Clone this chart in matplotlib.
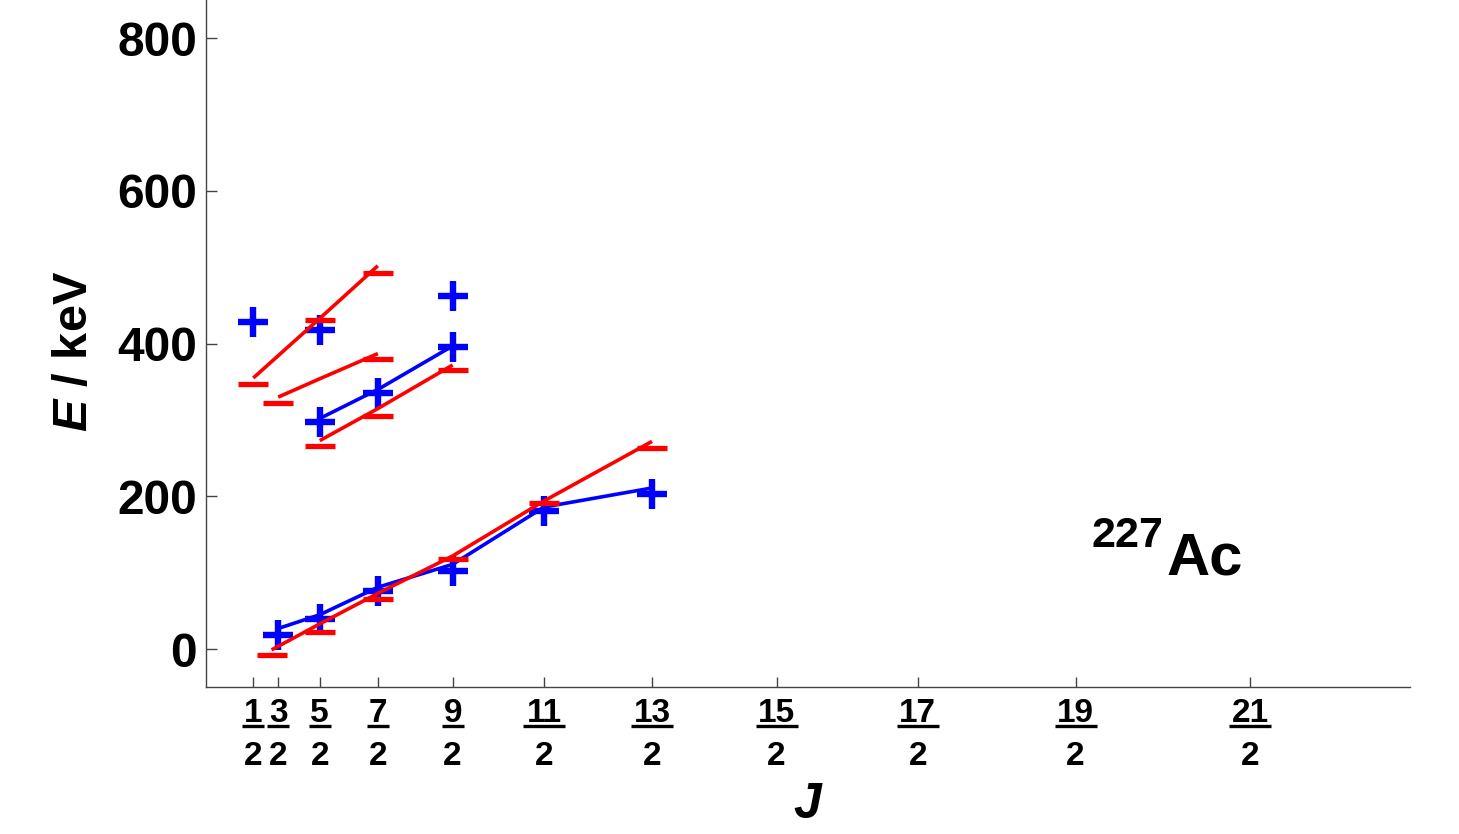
import numpy as np
import matplotlib
matplotlib.use('Agg')
import matplotlib.pyplot as plt
import matplotlib.transforms as mtransforms

plt.rcParams['font.family'] = ['Liberation Sans', 'DejaVu Sans']
plt.rcParams['font.weight'] = 'bold'
plt.rcParams['mathtext.fontset'] = 'custom'
plt.rcParams['mathtext.it'] = 'Liberation Sans:italic:bold'
plt.rcParams['mathtext.rm'] = 'Liberation Sans:bold'
plt.rcParams['mathtext.bf'] = 'Liberation Sans:bold'

# spin J, plotted on a J(J+1) axis
tick_num = [1, 3, 5, 7, 9, 11, 13, 15, 17, 19, 21]

# theory levels (red dashes)
th_J = [0.5, 1.5, 2.5, 3.5, 3.5, 3.5, 4.5, 2.5, 1.29, 2.5, 3.5, 4.5, 5.5, 6.5]
th_E = [347, 322, 431, 493, 380, 305, 366, 266, -8, 22, 66, 118, 191, 264]

# experimental levels (blue plus)
ex_J = [0.5, 2.5, 4.5, 2.5, 3.5, 4.5, 1.5, 2.5, 3.5, 4.5, 5.5, 6.5]
ex_E = [428, 418, 462, 297, 335, 395, 19, 40, 76, 102, 181, 203]

# experimental bands (blue lines)
ex_band0_J = [1.5, 2.5, 3.5, 4.5, 5.5, 6.5]
ex_band0_E = [27, 45, 81, 111, 186, 211]
ex_band1_J = [2.5, 3.5, 4.5]
ex_band1_E = [302, 340, 397]

# theory bands (red lines)
th_band0_J = [1.29, 2.5, 3.5, 4.5, 5.5, 6.5]
th_band0_E = [-1, 33, 73, 122, 194, 272]
th_bandA_J = [0.5, 2.5, 3.5]
th_bandA_E = [355, 433, 502]
th_bandB_J = [1.5, 2.5, 3.5]
th_bandB_E = [330, 354, 387]
th_bandC_J = [2.5, 3.5, 4.5]
th_bandC_E = [273, 315, 372]


def jx(j):
    j = np.asarray(j, dtype=float)
    return j * (j + 1)


W, H = 1459, 834
fig = plt.figure(figsize=(W / 100, H / 100), dpi=100)
ax = fig.add_axes([205.5 / W, 1 - 687.3 / H, (1410 - 205.5) / W, 687.3 / H])

red = '#ff0000'
blue = '#0000ff'

for bj, be in [(ex_band0_J, ex_band0_E), (ex_band1_J, ex_band1_E)]:
    ax.plot(jx(bj), be, '-', color=blue, lw=2.6, solid_capstyle='butt')
ax.plot(jx(ex_J), ex_E, '+', color=blue, ms=22, mew=4.6, ls='none')

for bj, be in [(th_band0_J, th_band0_E), (th_bandA_J, th_bandA_E),
               (th_bandB_J, th_bandB_E), (th_bandC_J, th_bandC_E)]:
    ax.plot(jx(bj), be, '-', color=red, lw=2.6, solid_capstyle='butt')
ax.plot(jx(th_J), th_E, '_', color=red, ms=21, mew=3.8, ls='none')

ax.set_xlim(-5, 140)
ax.set_ylim(-50, 850)

for s in ['top', 'right']:
    ax.spines[s].set_visible(False)
for s in ['left', 'bottom']:
    ax.spines[s].set_color('#444444')
    ax.spines[s].set_linewidth(1.0)

ax.set_yticks([0, 200, 400, 600, 800])
ax.tick_params(axis='y', direction='in', length=8, width=1, color='#444444',
               labelsize=34.5, pad=6)

tick_J = [n / 2 for n in tick_num]
ax.set_xticks(jx(tick_J))
ax.set_xticklabels([''] * len(tick_num))
ax.tick_params(axis='x', direction='in', length=7, width=1, color='#444444')

# fraction tick labels
blend = mtransforms.blended_transform_factory(ax.transData, ax.transAxes)
for n, xv in zip(tick_num, jx(tick_J)):
    ax.text(xv, -0.050, str(n), transform=blend, ha='center', va='baseline',
            fontsize=24, fontweight='bold', clip_on=False)
    ax.text(xv, -0.1131, '2', transform=blend, ha='center', va='baseline',
            fontsize=24, fontweight='bold', clip_on=False)
    ax.plot([xv], [-0.0559], marker='_', ms=16 if n < 10 else 30, mew=2.4,
            color='black', transform=blend, clip_on=False)

fig.text(807 / W, 1 - 805 / H, 'J', ha='center', va='center',
         fontsize=36, style='italic', fontweight='bold')
fig.text(75 / W, 1 - 351 / H, r'$E$ / keV', ha='center', va='center',
         rotation=90, fontsize=35, fontweight='bold')

ax.text(0.7357, 0.2046, '227', transform=ax.transAxes, ha='left',
        va='baseline', fontsize=31, fontweight='bold')
ax.text(0.798, 0.1648, 'Ac', transform=ax.transAxes, ha='left',
        va='baseline', fontsize=43, fontweight='bold')

plt.savefig('out.png', dpi=100)
